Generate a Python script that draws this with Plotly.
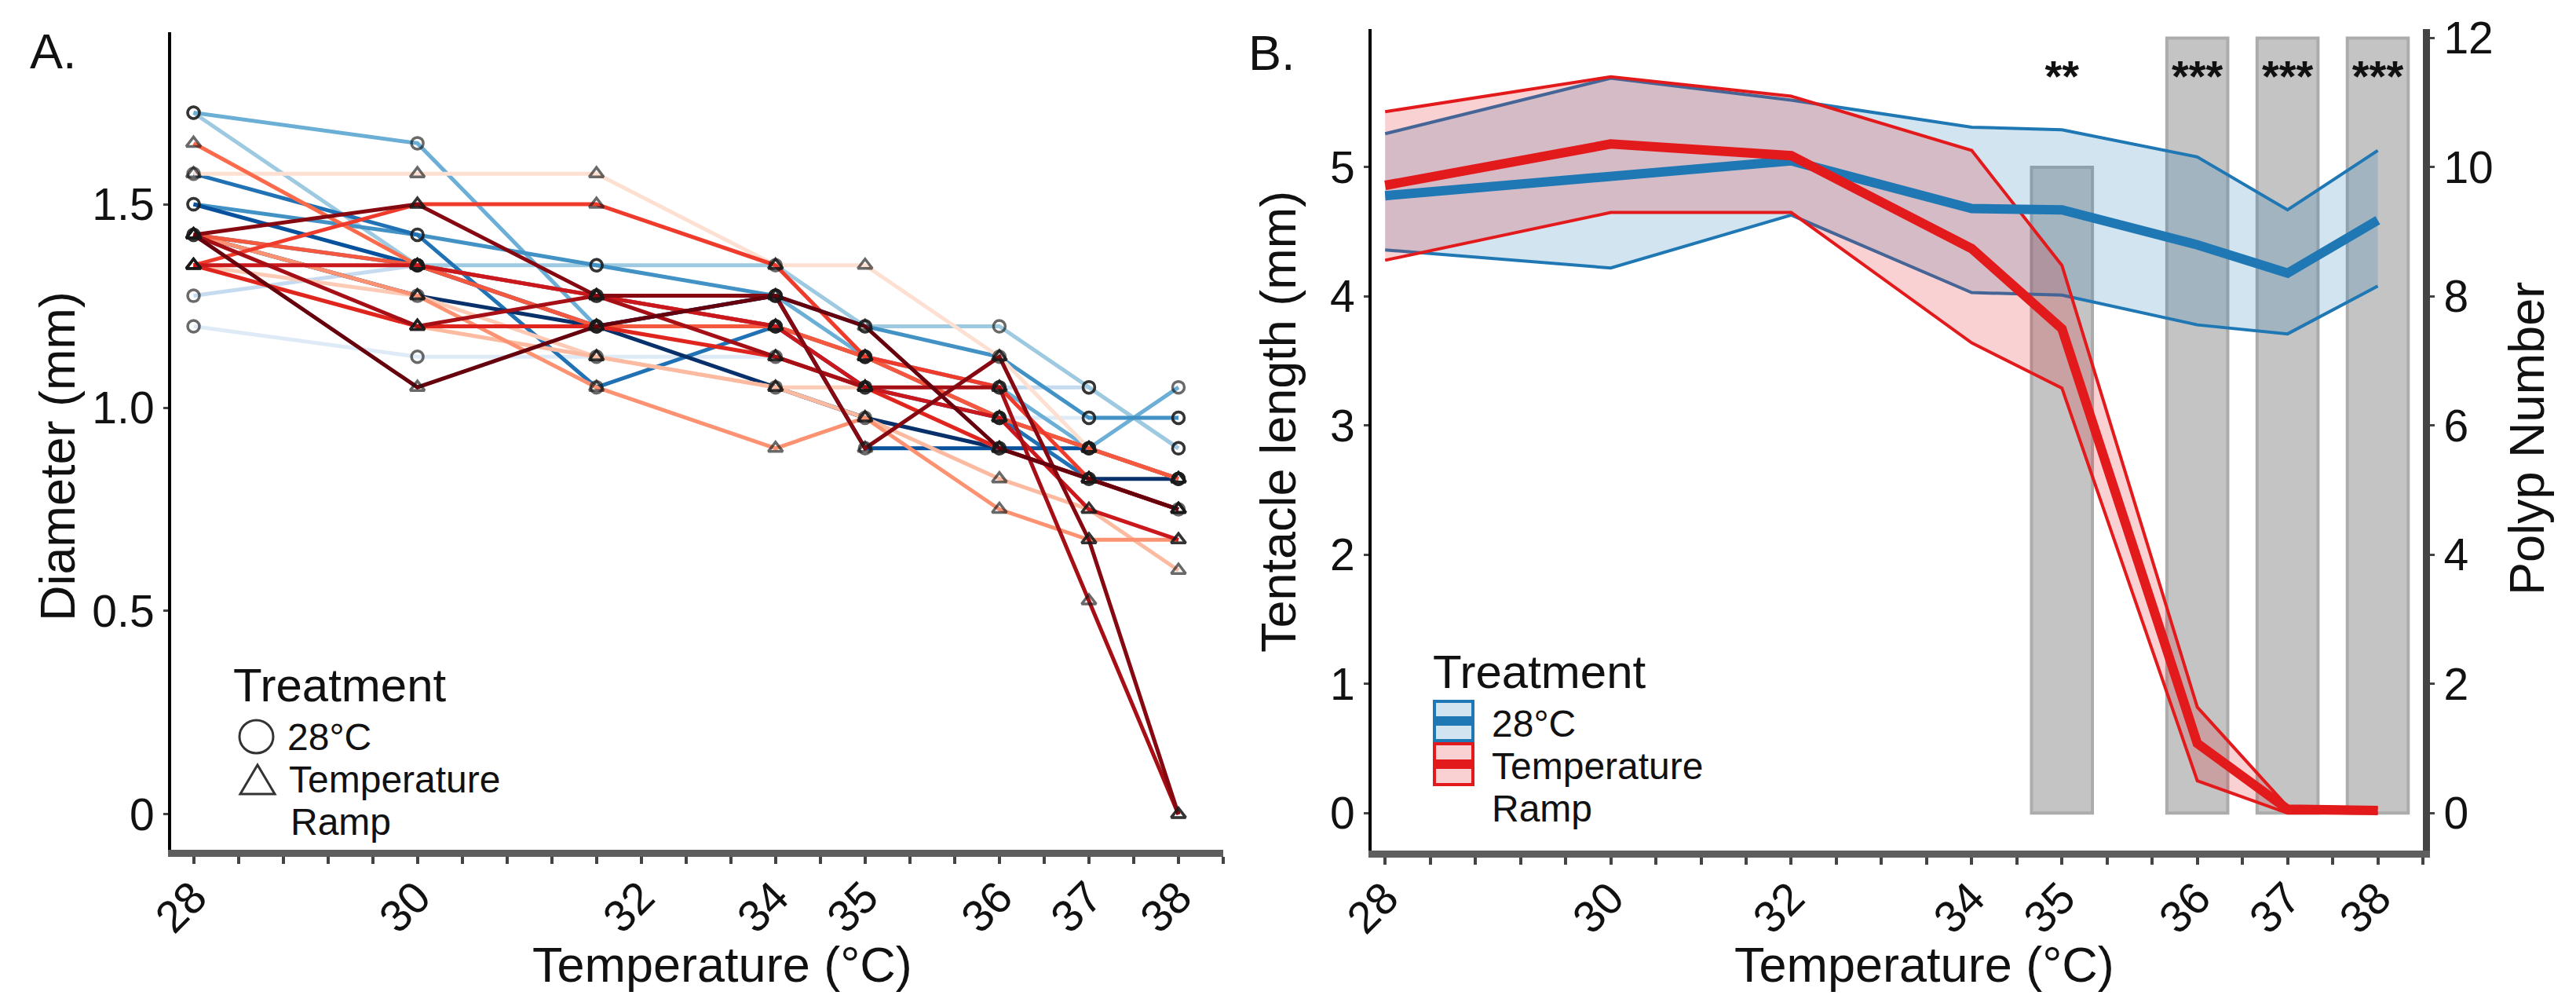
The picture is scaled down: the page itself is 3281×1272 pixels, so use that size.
import plotly.graph_objects as go

FONT = "Liberation Sans, Arial, sans-serif"
W, H = 3281, 1272

# ---------------- data ----------------
# measurement days of the ramp (x axis is day, labelled with temperature)
days_a = [0, 5, 9, 13, 15, 18, 20, 22]
days_b = [0, 5, 9, 13, 15, 18, 20, 22]
tick_days_a = [0, 5, 10, 13, 15, 18, 20, 22]
tick_days_b = [0, 5, 9, 13, 15, 18, 20, 22]
temp_labels = ["28", "30", "32", "34", "35", "36", "37", "38"]

# panel A: colony diameter (mm) of each polyp
ctrl_colors = ["#deebf7", "#c6dbef", "#9ecae1", "#6baed6", "#4292c6",
               "#3a86c4", "#2171b5", "#08519c", "#08306b"]
ctrl_diameter = [
    [1.200, 1.125, 1.125, 1.125, 1.050, 0.975, 0.975, 0.975],
    [1.275, 1.350, 1.275, 1.200, 1.125, 1.050, 1.050, 0.900],
    [1.725, 1.350, 1.350, 1.350, 1.200, 1.200, 1.050, 0.900],
    [1.725, 1.650, 1.200, 1.275, 1.125, 1.050, 0.900, 1.050],
    [1.500, 1.425, 1.350, 1.275, 1.200, 1.125, 0.975, 0.975],
    [1.425, 1.350, 1.275, 1.200, 1.125, 0.975, 0.900, 0.825],
    [1.575, 1.425, 1.050, 1.200, 1.050, 0.975, 0.825, 0.750],
    [1.500, 1.350, 1.200, 1.275, 0.900, 0.900, 0.900, 0.825],
    [1.425, 1.275, 1.200, 1.050, 0.975, 0.900, 0.825, 0.825],
]
ramp_colors = ["#fee0d2", "#fdcab5", "#fcbba1", "#fc9272", "#fb6a4a", "#f4593f",
               "#ef3b2c", "#e0251f", "#cb181d", "#a50f15", "#860811", "#67000d"]
ramp_diameter = [
    [1.575, 1.575, 1.575, 1.350, 1.350, 1.125, 0.900, 0.825],
    [1.350, 1.275, 1.125, 1.050, 1.050, 0.900, 0.825, 0.750],
    [1.350, 1.200, 1.125, 1.050, 0.975, 0.825, 0.750, 0.600],
    [1.425, 1.275, 1.050, 0.900, 0.975, 0.750, 0.675, 0.675],
    [1.650, 1.350, 1.275, 1.200, 1.125, 0.975, 0.900, 0.825],
    [1.425, 1.350, 1.200, 1.200, 1.125, 0.975, 0.900, 0.825],
    [1.350, 1.500, 1.500, 1.350, 1.125, 1.050, 0.825, 0.750],
    [1.350, 1.200, 1.200, 1.125, 1.050, 0.900, 0.825, 0.750],
    [1.350, 1.350, 1.275, 1.200, 1.050, 0.975, 0.750, 0.675],
    [1.425, 1.200, 1.275, 1.125, 1.050, 1.050, 0.525, 0.000],
    [1.425, 1.500, 1.275, 1.275, 0.900, 1.125, 0.675, 0.000],
    [1.425, 1.050, 1.200, 1.275, 1.200, 0.900, 0.825, 0.750],
]

# panel B: tentacle length (mm), mean and ribbon bounds
ctrl_mean = [4.78, 4.94, 5.05, 4.68, 4.67, 4.40, 4.18, 4.59]
ctrl_hi = [5.26, 5.69, 5.52, 5.31, 5.29, 5.08, 4.67, 5.13]
ctrl_lo = [4.36, 4.22, 4.63, 4.03, 4.01, 3.78, 3.71, 4.08]
ramp_mean = [4.86, 5.18, 5.09, 4.37, 3.75, 0.54, 0.03, 0.02]
ramp_hi = [5.43, 5.70, 5.55, 5.13, 4.24, 0.82, 0.05, 0.04]
ramp_lo = [4.28, 4.65, 4.65, 3.64, 3.29, 0.25, 0.00, 0.00]

# panel B: polyp number bars and significance
polyp_days = [15, 18, 20, 22]
polyp_number = [10, 12, 12, 12]
signif = ["**", "***", "***", "***"]
signif_y = [11.35, 11.35, 11.35, 11.35]

BLUE = "#1f78b4"
RED = "#e31a1c"


def px_x(p):
    return p / W


def px_y(p):
    return 1 - p / H


fig = go.Figure()

# ---------------- panel A ----------------
for col, vals in zip(ctrl_colors, ctrl_diameter):
    fig.add_trace(go.Scatter(x=days_a, y=vals, mode="lines", xaxis="x", yaxis="y",
                             line=dict(color=col, width=5), showlegend=False,
                             hoverinfo="skip"))
for col, vals in zip(ramp_colors, ramp_diameter):
    fig.add_trace(go.Scatter(x=days_a, y=vals, mode="lines", xaxis="x", yaxis="y",
                             line=dict(color=col, width=5), showlegend=False,
                             hoverinfo="skip"))

# points on top of all lines
cx = [d for vals in ctrl_diameter for d in days_a]
cy = [v for vals in ctrl_diameter for v in vals]
rx = [d for vals in ramp_diameter for d in days_a]
ry = [v for vals in ramp_diameter for v in vals]
fig.add_trace(go.Scatter(x=cx, y=cy, mode="markers", xaxis="x", yaxis="y",
                         marker=dict(symbol="circle-open", size=15,
                                     color="rgba(25,25,25,0.65)",
                                     line=dict(width=3.5)),
                         showlegend=False))
fig.add_trace(go.Scatter(x=rx, y=ry, mode="markers", xaxis="x", yaxis="y",
                         marker=dict(symbol="triangle-up-open", size=16,
                                     color="rgba(25,25,25,0.65)",
                                     line=dict(width=3.5)),
                         showlegend=False))

# ---------------- panel B ----------------
fig.add_trace(go.Bar(x=polyp_days, y=polyp_number, width=1.35, xaxis="x2", yaxis="y2",
                     marker=dict(color="#c4c4c4", line=dict(color="#acacac", width=4)),
                     showlegend=False))
fig.add_trace(go.Scatter(x=polyp_days, y=signif_y, text=signif, mode="text",
                         xaxis="x2", yaxis="y2",
                         textfont=dict(family=FONT, size=56, color="#111", weight="bold"),
                         showlegend=False))

for lo, hi, col, fill in [(ctrl_lo, ctrl_hi, BLUE, "rgba(31,120,180,0.2)"),
                          (ramp_lo, ramp_hi, RED, "rgba(227,26,28,0.2)")]:
    fig.add_trace(go.Scatter(x=days_b, y=lo, mode="lines", xaxis="x2", yaxis="y3",
                             line=dict(color=col, width=4), showlegend=False))
    fig.add_trace(go.Scatter(x=days_b, y=hi, mode="lines", xaxis="x2", yaxis="y3",
                             line=dict(color=col, width=4), fill="tonexty",
                             fillcolor=fill, showlegend=False))
for mean, col in [(ctrl_mean, BLUE), (ramp_mean, RED)]:
    fig.add_trace(go.Scatter(x=days_b, y=mean, mode="lines", xaxis="x2", yaxis="y3",
                             line=dict(color=col, width=12), showlegend=False))

# ---------------- axes ----------------
tickfont = dict(family=FONT, size=57, color="#111")
xcommon = dict(showgrid=False, zeroline=False, showline=True, linecolor="#5e5e5e",
               linewidth=9, ticks="outside", ticklen=9, tickwidth=4, tickcolor="#444",
               tickangle=-45, tickfont=tickfont, automargin=False,
               ticklabelstandoff=-14,
               minor=dict(tickmode="linear", tick0=0, dtick=1, ticks="outside",
                          ticklen=9, tickwidth=4, tickcolor="#444"))
ycommon = dict(showgrid=False, zeroline=False, showline=True, linecolor="#000",
               linewidth=4, ticks="outside", ticklen=6, tickwidth=3, tickcolor="#444",
               tickfont=tickfont, automargin=False)

fig.update_layout(
    xaxis=dict(xcommon, domain=[px_x(210), px_x(1550)], range=[-0.5, 23.0],
               anchor="y", tickmode="array", tickvals=tick_days_a, ticktext=temp_labels),
    yaxis=dict(ycommon, domain=[px_y(1074), px_y(33)], range=[-0.087, 1.923],
               anchor="x", tickmode="array", tickvals=[0, 0.5, 1.0, 1.5],
               ticktext=["0", "0.5", "1.0", "1.5"]),
    xaxis2=dict(xcommon, domain=[px_x(1739), px_x(3078)], range=[-0.3, 23.0],
                anchor="y2", tickmode="array", tickvals=tick_days_b, ticktext=temp_labels),
    yaxis2=dict(ycommon, domain=[px_y(1075), px_y(29)], range=[-0.58, 12.14],
                anchor="x2", side="right", linecolor="#444", linewidth=9,
                tickmode="array", tickvals=[0, 2, 4, 6, 8, 10, 12]),
    yaxis3=dict(ycommon, range=[-0.29, 6.07], anchor="x2", side="left",
                overlaying="y2", tickmode="array", tickvals=[0, 1, 2, 3, 4, 5]),
)

# ---------------- titles ----------------
title_font = dict(family=FONT, size=63, color="#111")
notes = [
    ("A.", 28, 57, "left", 0),
    ("B.", 1580, 59, "left", 0),
    ("Temperature (°C)", 912, 1220, "center", 0),
    ("Temperature (°C)", 2443, 1220, "center", 0),
    ("Diameter (mm)", 65, 573, "center", -90),
    ("Tentacle length (mm)", 1620, 529, "center", -90),
    ("Polyp Number", 3210, 551, "center", -90),
]
for txt, x, y, xa, ang in notes:
    fig.add_annotation(text=txt, x=px_x(x), y=px_y(y), xref="paper", yref="paper",
                       xanchor=xa, yanchor="middle", textangle=ang, showarrow=False,
                       font=title_font)

# ---------------- legends ----------------
leg_font = dict(family=FONT, size=48, color="#111")
leg_title = dict(family=FONT, size=60, color="#111")
legend_text = [
    ("Treatment", 287, 864, leg_title),
    ("28°C", 356, 930, leg_font),
    ("Temperature", 358, 984, leg_font),
    ("Ramp", 360, 1038, leg_font),
    ("Treatment", 1815, 847, leg_title),
    ("28°C", 1890, 913, leg_font),
    ("Temperature", 1890, 967, leg_font),
    ("Ramp", 1890, 1021, leg_font),
]
for txt, x, y, f in legend_text:
    fig.add_annotation(text=txt, x=px_x(x), y=px_y(y), xref="paper", yref="paper",
                       xanchor="left", yanchor="middle", showarrow=False, font=f)

# key glyphs for panel A
fig.add_shape(type="circle", xref="paper", yref="paper",
              x0=px_x(297), x1=px_x(340), y0=px_y(951), y1=px_y(909),
              line=dict(color="#333", width=3))
fig.add_shape(type="path", xref="paper", yref="paper",
              path=f"M {px_x(298)},{px_y(1003)} L {px_x(342)},{px_y(1003)} "
                   f"L {px_x(320)},{px_y(966)} Z",
              line=dict(color="#333", width=3))

# key boxes for panel B
for top, bottom, col, fill in [(883, 937, BLUE, "rgba(31,120,180,0.2)"),
                               (937, 993, RED, "rgba(227,26,28,0.2)")]:
    fig.add_shape(type="rect", xref="paper", yref="paper",
                  x0=px_x(1819), x1=px_x(1868), y0=px_y(bottom - 2), y1=px_y(top + 2),
                  line=dict(color=col, width=4), fillcolor=fill)
    mid = (top + bottom) / 2
    fig.add_shape(type="line", xref="paper", yref="paper",
                  x0=px_x(1821), x1=px_x(1866), y0=px_y(mid), y1=px_y(mid),
                  line=dict(color=col, width=12))

fig.update_layout(width=W, height=H, margin=dict(l=0, r=0, t=0, b=0),
                  paper_bgcolor="white", plot_bgcolor="white", showlegend=False,
                  font=dict(family=FONT), barmode="overlay")

fig.write_html("out.html")
